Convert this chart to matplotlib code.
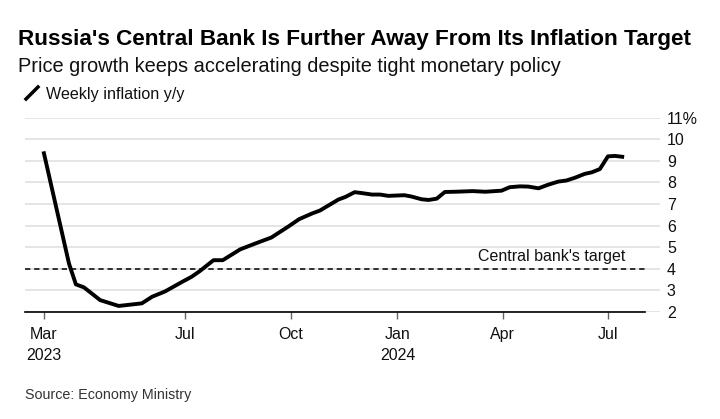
import numpy as np
import pandas as pd
import matplotlib
matplotlib.use('Agg')
import matplotlib.pyplot as plt
import matplotlib.dates as mdates

plt.rcParams['font.family'] = ['Liberation Sans', 'DejaVu Sans']

# weekly inflation y/y
dates = ['2023-03-01', '2023-03-23', '2023-03-29', '2023-04-05', '2023-04-19',
         '2023-05-05', '2023-05-25', '2023-06-03', '2023-06-14', '2023-06-29',
         '2023-07-07', '2023-07-14', '2023-07-26', '2023-08-03', '2023-08-18',
         '2023-08-31', '2023-09-14', '2023-09-29', '2023-10-08', '2023-10-19',
         '2023-10-26', '2023-11-11', '2023-11-17', '2023-11-25', '2023-12-01',
         '2023-12-10', '2023-12-17', '2023-12-24', '2024-01-07', '2024-01-13',
         '2024-01-22', '2024-01-28', '2024-02-04', '2024-02-11', '2024-02-20',
         '2024-03-06', '2024-03-17', '2024-03-31', '2024-04-07', '2024-04-16',
         '2024-04-23', '2024-05-02', '2024-05-10', '2024-05-19', '2024-05-26',
         '2024-06-02', '2024-06-11', '2024-06-17', '2024-06-24', '2024-07-01',
         '2024-07-07', '2024-07-15']
inflation = [9.44, 4.25, 3.28, 3.14, 2.55,
             2.28, 2.40, 2.71, 2.95, 3.40,
             3.63, 3.89, 4.40, 4.40, 4.90,
             5.17, 5.45, 5.97, 6.30, 6.56,
             6.70, 7.21, 7.33, 7.55, 7.51,
             7.44, 7.44, 7.38, 7.41, 7.35,
             7.22, 7.19, 7.25, 7.56, 7.57,
             7.60, 7.57, 7.62, 7.78, 7.82,
             7.81, 7.73, 7.89, 8.04, 8.09,
             8.21, 8.40, 8.47, 8.62, 9.21,
             9.23, 9.18]
target = 4
yticks = [2, 3, 4, 5, 6, 7, 8, 9, 10, 11]
ytick_labels = ['2', '3', '4', '5', '6', '7', '8', '9', '10', '11%']
xtick_dates = ['2023-03-01', '2023-07-01', '2023-10-01', '2024-01-01', '2024-04-01', '2024-07-01']
xtick_labels = ['Mar\n2023', 'Jul', 'Oct', 'Jan\n2024', 'Apr', 'Jul']

df = pd.DataFrame({'date': pd.to_datetime(dates), 'value': inflation})

fig = plt.figure(figsize=(7.2, 4.19), dpi=100)
ax = fig.add_axes([25/720, 107/419, 635/720, 194.3/419])

x0 = pd.Timestamp('2023-02-13')
x1 = pd.Timestamp('2024-08-15')
ax.set_xlim(x0, x1)
ax.set_ylim(2, 11)

for y in yticks[1:]:
    ax.axhline(y, color='#e0e0e0', lw=1.2, zorder=1)
ax.axhline(2, color='#e0e0e0', lw=1.2, zorder=1)
ax.axhline(2, xmax=620/635, color='black', lw=1.2, zorder=2, clip_on=False)
ax.axhline(target, xmax=620/635, color='black', lw=1.1, ls=(0, (3.5, 2.5)), zorder=3)

ax.plot(df['date'], df['value'], color='black', lw=2.8, zorder=4,
        solid_joinstyle='round', solid_capstyle='butt')

ax.text(pd.Timestamp('2024-07-16'), target + 0.22, "Central bank's target",
        ha='right', va='bottom', fontsize=11.5, color='#111111')

for s in ax.spines.values():
    s.set_visible(False)

ax.set_yticks(yticks)
ax.set_yticklabels(ytick_labels)
ax.yaxis.tick_right()
ax.tick_params(axis='y', length=0, pad=5, labelsize=11.5, labelcolor='#111111')

ax.set_xticks(pd.to_datetime(xtick_dates))
ax.set_xticklabels(xtick_labels, linespacing=1.45)
ax.tick_params(axis='x', length=5, width=1, color='#666666', pad=6,
               labelsize=11.5, labelcolor='#111111')

fig.text(18/720, 1 - 40/419, "Russia's Central Bank Is Further Away From Its Inflation Target",
         fontsize=16.2, fontweight='bold', va='center', ha='left', color='black')
fig.text(18/720, 1 - 67/419, "Price growth keeps accelerating despite tight monetary policy",
         fontsize=14.4, va='center', ha='left', color='#111111')
fig.lines.append(plt.Line2D([26/720, 38/720], [1 - 99/419, 1 - 87/419],
                            transform=fig.transFigure, color='black', lw=2.5))
fig.text(46/720, 1 - 94/419, "Weekly inflation y/y", fontsize=11.6, va='center', ha='left',
         color='#111111')
fig.text(25/720, 1 - 395/419, "Source: Economy Ministry", fontsize=10.3, va='center',
         ha='left', color='#333333')

fig.savefig('out.png', dpi=100, facecolor='white')
